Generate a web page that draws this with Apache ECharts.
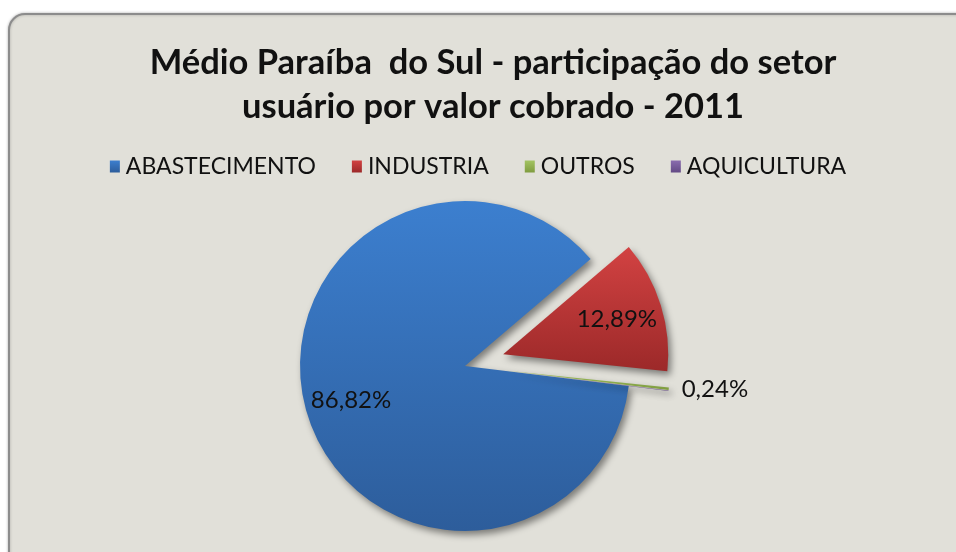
<!DOCTYPE html>
<html>
<head>
<meta charset="utf-8">
<script src="https://cdn.jsdelivr.net/npm/echarts@6/dist/echarts.min.js"></script>
<style>
  html, body { margin: 0; padding: 0; background: #fff; }
  #main { width: 956px; height: 552px; }
</style>
</head>
<body>
<div id="main"></div>
<script>
var myChart = echarts.init(document.getElementById('main'));

// dados
var setores = ['ABASTECIMENTO', 'INDUSTRIA', 'OUTROS', 'AQUICULTURA'];
var valores = [86.82, 12.89, 0.24, 0.05];
var explodido = [false, true, true, true];
var coresTopo = ['#3c7fcf', '#d24242', '#a3c462', '#8a6cae'];
var coresBase = ['#2d5d9b', '#9c2929', '#7f9c3f', '#634a85'];

function fmt(v) {
    return v.toFixed(2).replace('.', ',') + '%';
}

var fonte = 'Lato, "Open Sans", sans-serif';

var dadosPizza = [];
var dadosRotulo = [];
for (var i = 0; i < setores.length; i++) {
    dadosPizza.push({
        name: setores[i],
        value: valores[i],
        selected: explodido[i],
        itemStyle: {
            color: new echarts.graphic.LinearGradient(0, 0, 0, 1, [
                {offset: 0, color: coresTopo[i]},
                {offset: 1, color: coresBase[i]}
            ])
        },
        // so OUTROS tem rotulo fora da fatia
        label: {show: setores[i] === 'OUTROS'}
    });
    dadosRotulo.push({
        name: setores[i],
        value: valores[i],
        selected: explodido[i],
        label: {show: i < 2}
    });
}

option = {
    backgroundColor: '#ffffff',
    graphic: [
        {   // moldura do grafico
            type: 'rect',
            z: -10,
            shape: {x: 9, y: 14, width: 980, height: 580, r: 16},
            style: {
                fill: '#e1e0d9',
                stroke: '#8c8c8c',
                lineWidth: 2,
                shadowBlur: 3,
                shadowColor: 'rgba(0,0,0,0.25)'
            }
        }
    ],
    title: {
        text: 'Médio Paraíba  do Sul - participação do setor\nusuário por valor cobrado - 2011',
        left: 488,
        textAlign: 'center',
        top: 36,
        textStyle: {
            fontFamily: fonte,
            fontWeight: 'bold',
            fontSize: 34.5,
            lineHeight: 44,
            color: '#111'
        }
    },
    legend: {
        data: setores,
        top: 150,
        left: 'center',
        icon: 'rect',
        itemWidth: 10,
        itemHeight: 12,
        itemGap: 36,
        selectedMode: false,
        textStyle: {
            fontFamily: fonte,
            fontSize: 23,
            color: '#111',
            padding: [0, 0, 0, 1]
        }
    },
    series: [
        {
            name: 'valor cobrado',
            type: 'pie',
            center: [465, 366],
            radius: [0, 165],
            startAngle: -7,
            clockwise: true,
            selectedMode: 'multiple',
            selectedOffset: 40,
            animation: false,
            itemStyle: {
                shadowBlur: 7,
                shadowOffsetX: 3,
                shadowOffsetY: 4,
                shadowColor: 'rgba(0,0,0,0.45)'
            },
            label: {
                position: 'outside',
                formatter: function (p) { return fmt(p.value); },
                fontFamily: fonte,
                fontSize: 24,
                color: '#111'
            },
            labelLine: {show: false, length: 4, length2: 4},
            emphasis: {disabled: true},
            data: dadosPizza
        },
        {   // camada so para os rotulos internos
            name: 'rotulos',
            type: 'pie',
            center: [465, 366],
            radius: [0, 232],
            startAngle: -7,
            clockwise: true,
            selectedMode: 'multiple',
            selectedOffset: 40,
            silent: true,
            animation: false,
            itemStyle: {color: 'rgba(0,0,0,0)'},
            label: {
                position: 'inside',
                formatter: function (p) { return fmt(p.value); },
                fontFamily: fonte,
                fontSize: 24,
                color: '#111'
            },
            labelLine: {show: false},
            emphasis: {disabled: true},
            data: dadosRotulo
        }
    ]
};

myChart.setOption(option);
</script>
</body>
</html>
